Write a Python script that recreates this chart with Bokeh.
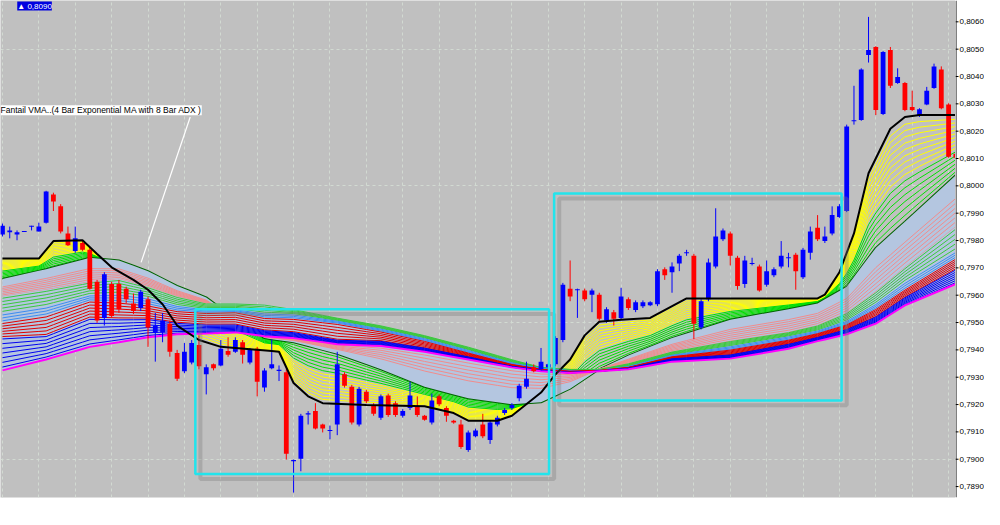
import numpy as np
from bokeh.plotting import figure
from bokeh.layouts import row
from bokeh.models import Range1d, SingleIntervalTicker, Label
from bokeh.embed import file_html
from bokeh.resources import INLINE

# ---------------- candle data (bar order, left to right) ----------------
opens = [0.79822, 0.79830, 0.79822, 0.79833, 0.79851, 0.79833, 0.79865, 0.79968, 0.79925, 0.79826,
         0.79762, 0.79791, 0.79766, 0.79649, 0.79517, 0.79641, 0.79641, 0.79624, 0.79570, 0.79553,
         0.79585, 0.79464, 0.79464, 0.79496, 0.79389, 0.79322, 0.79354, 0.79418, 0.79311, 0.79347,
         0.79343, 0.79396, 0.79393, 0.79428,
         0.79354, 0.79404, 0.79262, 0.79333, 0.79325, 0.79318, 0.78995, 0.79002, 0.79166, 0.79176,
         0.79127, 0.79105, 0.79127, 0.79311, 0.79265, 0.79127, 0.79247, 0.79198, 0.79152, 0.79233,
         0.79205, 0.79159, 0.79187, 0.79194, 0.79159, 0.79134, 0.79230, 0.79187, 0.79141, 0.79127,
         0.79034, 0.79084, 0.79127, 0.79070, 0.79127, 0.79169, 0.79187, 0.79223, 0.79265, 0.79336,
         0.79329, 0.79336,
         0.79347, 0.79436, 0.79624, 0.79620, 0.79617, 0.79602, 0.79602, 0.79507, 0.79538, 0.79517,
         0.79585, 0.79546, 0.79560, 0.79563, 0.79567, 0.79695, 0.79684, 0.79716, 0.79755, 0.79744,
         0.79482, 0.79585, 0.79705, 0.79805, 0.79826, 0.79737, 0.79641, 0.79716, 0.79705, 0.79638,
         0.79673, 0.79705, 0.79737, 0.79748, 0.79666, 0.79755, 0.79847, 0.79798, 0.79826, 0.79886,
         0.79908, 0.80238, 0.80241, 0.80479, 0.80508, 0.80263, 0.80497, 0.80376, 0.80376, 0.80288,
         0.80256, 0.80298, 0.80358, 0.80426, 0.80298, 0.80117]
highs = [0.79862, 0.79851, 0.79837, 0.79833, 0.79854, 0.79865, 0.79982, 0.79975, 0.79933, 0.79851,
         0.79851, 0.79798, 0.79773, 0.79656, 0.79684, 0.79649, 0.79656, 0.79631, 0.79606, 0.79620,
         0.79595, 0.79535, 0.79535, 0.79507, 0.79400, 0.79425, 0.79436, 0.79453, 0.79347, 0.79350,
         0.79436, 0.79446, 0.79446, 0.79436,
         0.79407, 0.79411, 0.79333, 0.79439, 0.79343, 0.79329, 0.78999, 0.79166, 0.79176, 0.79205,
         0.79130, 0.79123, 0.79393, 0.79318, 0.79272, 0.79265, 0.79254, 0.79205, 0.79237, 0.79240,
         0.79212, 0.79183, 0.79283, 0.79230, 0.79162, 0.79240, 0.79237, 0.79194, 0.79144, 0.79144,
         0.79105, 0.79112, 0.79166, 0.79141, 0.79159, 0.79187, 0.79205, 0.79276, 0.79357, 0.79347,
         0.79407, 0.79350,
         0.79450, 0.79645, 0.79727, 0.79624, 0.79624, 0.79624, 0.79609, 0.79556, 0.79546, 0.79627,
         0.79592, 0.79581, 0.79581, 0.79578, 0.79695, 0.79702, 0.79720, 0.79751, 0.79766, 0.79751,
         0.79585, 0.79734, 0.79918, 0.79844, 0.79833, 0.79744, 0.79744, 0.79737, 0.79712, 0.79727,
         0.79702, 0.79798, 0.79755, 0.79755, 0.79773, 0.79851, 0.79893, 0.79851, 0.79925, 0.79933,
         0.80224, 0.80366, 0.80430, 0.80618, 0.80511, 0.80493, 0.80508, 0.80430, 0.80380, 0.80348,
         0.80284, 0.80362, 0.80447, 0.80437, 0.80302, 0.80121]
lows = [0.79815, 0.79808, 0.79801, 0.79833, 0.79837, 0.79833, 0.79862, 0.79908, 0.79826, 0.79780,
        0.79755, 0.79762, 0.79620, 0.79499, 0.79489, 0.79517, 0.79535, 0.79570, 0.79531, 0.79542,
        0.79411, 0.79357, 0.79428, 0.79375, 0.79286, 0.79315, 0.79347, 0.79329, 0.79237, 0.79325,
        0.79340, 0.79375, 0.79389, 0.79350,
        0.79347, 0.79230, 0.79247, 0.79329, 0.79286, 0.78999, 0.78878, 0.78956, 0.79127, 0.79109,
        0.79098, 0.79073, 0.79088, 0.79262, 0.79127, 0.79120, 0.79205, 0.79159, 0.79144, 0.79155,
        0.79155, 0.79152, 0.79180, 0.79155, 0.79141, 0.79127, 0.79194, 0.79137, 0.79130, 0.79038,
        0.79027, 0.79080, 0.79077, 0.79056, 0.79120, 0.79162, 0.79180, 0.79212, 0.79258, 0.79318,
        0.79325, 0.79329,
        0.79340, 0.79428, 0.79578, 0.79517, 0.79578, 0.79538, 0.79507, 0.79499, 0.79489, 0.79510,
        0.79546, 0.79538, 0.79553, 0.79560, 0.79560, 0.79656, 0.79609, 0.79688, 0.79744, 0.79439,
        0.79475, 0.79578, 0.79698, 0.79798, 0.79709, 0.79620, 0.79627, 0.79709, 0.79613, 0.79631,
        0.79666, 0.79698, 0.79702, 0.79620, 0.79659, 0.79730, 0.79798, 0.79791, 0.79819, 0.79883,
        0.79904, 0.80224, 0.80238, 0.80451, 0.80259, 0.80259, 0.80358, 0.80373, 0.80273, 0.80273,
        0.80252, 0.80295, 0.80355, 0.80280, 0.80103, 0.80099]
closes = [0.79854, 0.79837, 0.79830, 0.79833, 0.79854, 0.79851, 0.79979, 0.79943, 0.79833, 0.79783,
          0.79808, 0.79766, 0.79624, 0.79507, 0.79677, 0.79524, 0.79549, 0.79585, 0.79542, 0.79613,
          0.79482, 0.79489, 0.79507, 0.79393, 0.79294, 0.79393, 0.79425, 0.79340, 0.79336, 0.79333,
          0.79404, 0.79382, 0.79436, 0.79382,
          0.79400, 0.79283, 0.79325, 0.79347, 0.79325, 0.79020, 0.78995, 0.79159, 0.79166, 0.79112,
          0.79112, 0.79105, 0.79347, 0.79269, 0.79134, 0.79258, 0.79212, 0.79166, 0.79230, 0.79162,
          0.79162, 0.79176, 0.79233, 0.79162, 0.79144, 0.79215, 0.79201, 0.79159, 0.79134, 0.79045,
          0.79098, 0.79105, 0.79084, 0.79134, 0.79152, 0.79180, 0.79198, 0.79269, 0.79294, 0.79322,
          0.79357, 0.79347,
          0.79443, 0.79638, 0.79595, 0.79620, 0.79585, 0.79617, 0.79514, 0.79549, 0.79514, 0.79595,
          0.79553, 0.79574, 0.79574, 0.79574, 0.79688, 0.79673, 0.79705, 0.79744, 0.79755, 0.79496,
          0.79578, 0.79720, 0.79815, 0.79837, 0.79744, 0.79634, 0.79727, 0.79716, 0.79617, 0.79688,
          0.79695, 0.79744, 0.79737, 0.79688, 0.79766, 0.79833, 0.79805, 0.79815, 0.79893, 0.79925,
          0.80217, 0.80238, 0.80426, 0.80497, 0.80277, 0.80490, 0.80366, 0.80398, 0.80277, 0.80277,
          0.80280, 0.80348, 0.80437, 0.80284, 0.80106, 0.80103]

# ---------------- Fantail VMA lines ----------------
black_idx = [0, 5, 7, 11, 13, 15, 18, 20, 22, 24, 27, 30, 37, 38, 40, 42, 44, 50, 58, 62, 64, 68,
             70, 74, 76, 78, 80, 82, 85, 89, 94, 112, 113, 115, 117, 119, 122, 124, 126, 131]
black_vma = [0.79734, 0.79734, 0.79798, 0.79801, 0.79751, 0.79702, 0.79656, 0.79620, 0.79567, 0.79489,
             0.79436, 0.79411, 0.79396, 0.79393, 0.79279, 0.79230, 0.79205, 0.79198, 0.79194, 0.79169,
             0.79141, 0.79141, 0.79159, 0.79244, 0.79311, 0.79365, 0.79453, 0.79503, 0.79510, 0.79517,
             0.79588, 0.79588, 0.79602, 0.79684, 0.79826, 0.80046, 0.80209, 0.80252, 0.80259, 0.80259]

band_idx = [0, 6, 12, 16, 20, 24, 28, 32, 36, 40, 46, 52, 58, 64, 70, 74, 78, 82, 86, 92,
            100, 108, 112, 116, 120, 124, 131]
dark_green = [0.79659, 0.79695, 0.79737, 0.79727, 0.79688, 0.79634, 0.79592, 0.79514, 0.79443, 0.79428,
              0.79386, 0.79329, 0.79265, 0.79223, 0.79201, 0.79208, 0.79258, 0.79329, 0.79379, 0.79443,
              0.79510, 0.79549, 0.79570, 0.79631, 0.79773, 0.79869, 0.80039]
pink_edge = [0.79595, 0.79620, 0.79649, 0.79659, 0.79631, 0.79595, 0.79570, 0.79514, 0.79450, 0.79443,
             0.79421, 0.79414, 0.79393, 0.79365, 0.79336, 0.79322, 0.79315, 0.79329, 0.79350, 0.79393,
             0.79432, 0.79464, 0.79489, 0.79535, 0.79613, 0.79702, 0.79851]
green_top = [0.79595, 0.79620, 0.79649, 0.79659, 0.79631, 0.79595, 0.79570, 0.79570, 0.79567, 0.79549,
             0.79517, 0.79489, 0.79453, 0.79411, 0.79365, 0.79336, 0.79329, 0.79329, 0.79350, 0.79393,
             0.79432, 0.79464, 0.79489, 0.79535, 0.79613, 0.79702, 0.79851]
corn_top = [0.79535, 0.79560, 0.79602, 0.79606, 0.79592, 0.79563, 0.79549, 0.79549, 0.79535, 0.79531,
            0.79507, 0.79478, 0.79443, 0.79400, 0.79354, 0.79333, 0.79325, 0.79325, 0.79340, 0.79382,
            0.79414, 0.79450, 0.79471, 0.79507, 0.79570, 0.79649, 0.79762]
red_top = [0.79499, 0.79524, 0.79578, 0.79574, 0.79563, 0.79542, 0.79535, 0.79538, 0.79517, 0.79514,
           0.79496, 0.79467, 0.79432, 0.79389, 0.79347, 0.79329, 0.79322, 0.79325, 0.79336, 0.79375,
           0.79400, 0.79436, 0.79460, 0.79492, 0.79549, 0.79620, 0.79734]
blue_top = [0.79446, 0.79453, 0.79517, 0.79514, 0.79514, 0.79499, 0.79492, 0.79492, 0.79471, 0.79464,
            0.79436, 0.79432, 0.79407, 0.79375, 0.79340, 0.79325, 0.79318, 0.79322, 0.79333, 0.79368,
            0.79382, 0.79421, 0.79446, 0.79475, 0.79521, 0.79592, 0.79695]
magenta_line = [0.79325, 0.79365, 0.79411, 0.79428, 0.79446, 0.79457, 0.79460, 0.79464, 0.79450, 0.79443,
                0.79421, 0.79414, 0.79393, 0.79365, 0.79336, 0.79322, 0.79315, 0.79322, 0.79329, 0.79357,
                0.79368, 0.79404, 0.79432, 0.79457, 0.79496, 0.79563, 0.79641]

# ---------------- price axis ----------------
tick_values = [0.7890, 0.7900, 0.7910, 0.7920, 0.7930, 0.7940, 0.7950, 0.7960, 0.7970,
               0.7980, 0.7990, 0.8000, 0.8010, 0.8020, 0.8030, 0.8040, 0.8050, 0.8060]
tick_labels = ["0,7890", "0,7900", "0,7910", "0,7920", "0,7930", "0,7940", "0,7950", "0,7960", "0,7970",
               "0,7980", "0,7990", "0,8000", "0,8010", "0,8020", "0,8030", "0,8040", "0,8050", "0,8060"]

# ---------------- annotations ----------------
box_left = [26.5, 75.8]
box_right = [75.1, 115.3]
box_top = [0.79549, 0.79972]
box_bottom = [0.78946, 0.79215]
note_text = "Fantail VMA..(4 Bar Exponential MA with 8 Bar ADX )"
note_pos = (-0.27, 0.80295)
pointer = dict(x0=[25.8], y0=[0.80252], x1=[19.05], y1=[0.79720])
price_tag = "\u25B2 0,8090"
price_tag_pos = (2.03, 0.80674)

X_MIN, X_MAX = -0.27, 130.95
Y_MIN, Y_MAX = 0.78860, 0.80678

# ---------------- main chart ----------------
yr = Range1d(Y_MIN, Y_MAX)
p = figure(width=955, height=509, x_range=Range1d(X_MIN, X_MAX), y_range=yr,
           output_backend="svg", toolbar_location=None, y_axis_location="right",
           min_border_left=0, min_border_top=0, min_border_bottom=12, min_border_right=0,
           background_fill_color="#C0C0C0", border_fill_color="white")
p.outline_line_color = None
p.xaxis.visible = False
p.yaxis.visible = False

p.xgrid.ticker = SingleIntervalTicker(interval=5)
p.ygrid.ticker = SingleIntervalTicker(interval=0.005)
p.grid.grid_line_color = "#D2DAD2"
p.grid.grid_line_dash = "3 3"
p.grid.grid_line_width = 1

# common x grid for the band curves (union of sample positions; piecewise linear)
gx = np.union1d(np.array(black_idx, float), np.array(band_idx, float))
def on_grid(ix, vals):
    return np.interp(gx, np.array(ix, float), np.array(vals, float))

bk = on_grid(black_idx, black_vma)
dg = on_grid(band_idx, dark_green)
kp = on_grid(band_idx, pink_edge)
gt = on_grid(band_idx, green_top)
ct = on_grid(band_idx, corn_top)
rt = on_grid(band_idx, red_top)
bt = on_grid(band_idx, blue_top)
mg = on_grid(band_idx, magenta_line)

def fan(a, b, ts):
    return [list(gx) for _ in ts], [list(a + t * (b - a)) for t in ts]

# fast fan: yellow then green lines between the VMA and the dark green line
xs, ys = fan(bk, dg, np.linspace(0.07, 0.55, 9))
p.multi_line(xs, ys, line_color="#FFFF00", line_width=1)
xs, ys = fan(bk, dg, np.linspace(0.61, 0.94, 6))
p.multi_line(xs, ys, line_color="#00E000", line_width=1)
p.line(gx, dg, line_color="#006400", line_width=2)

# light blue band with salmon lines
p.varea(x=gx, y1=dg, y2=kp, fill_color="#B4C6E0")
xs, ys = fan(dg, kp, np.linspace(0.45, 1.0, 7))
p.multi_line(xs, ys, line_color="#F08C8C", line_width=1)

# slow group: green, cornflower, red, blue, magenta
p.varea(x=gx, y1=gt, y2=mg, fill_color="#B4C6E0")
xs, ys = fan(gt, ct, [0.1, 0.3, 0.5, 0.7, 0.9])
p.multi_line(xs, ys, line_color="#3CC83C", line_width=1)
xs, ys = fan(ct, rt, [0.2, 0.5, 0.8])
p.multi_line(xs, ys, line_color="#3C8CF0", line_width=1)
xs, ys = fan(rt, bt, np.linspace(0.05, 0.95, 6))
p.multi_line(xs, ys, line_color="#E00000", line_width=1)
xs, ys = fan(bt, mg, np.linspace(0.05, 0.9, 7))
p.multi_line(xs, ys, line_color="#0000F0", line_width=1)
p.line(gx, mg, line_color="#FF00FF", line_width=2)

# candles
o = np.array(opens); c = np.array(closes)
idx = np.arange(len(o), dtype=float)
colors = ["#0000FF" if cc >= oo else "#FF0000" for oo, cc in zip(o, c)]
p.segment(x0=idx, y0=highs, x1=idx, y1=lows, line_color=colors, line_width=1)
top = np.maximum(o, c); bot = np.minimum(o, c)
thin = (top - bot) < 0.00004
top = np.where(thin, (top + bot) / 2 + 0.00002, top)
bot = np.where(thin, (o + c) / 2 - 0.00002, bot)
p.quad(left=idx - 0.33, right=idx + 0.33, top=top, bottom=bot, fill_color=colors, line_color=None)

# VMA line
p.line(black_idx, black_vma, line_color="black", line_width=2)

# cyan boxes with soft shadow
bl = np.array(box_left); br = np.array(box_right); btp = np.array(box_top); bbm = np.array(box_bottom)
p.quad(left=bl + 0.7, right=br + 0.7, top=btp - 0.00018, bottom=bbm - 0.00018,
       fill_color=None, line_color="#7A7A7A", line_alpha=0.35, line_width=4)
p.quad(left=bl, right=br, top=btp, bottom=bbm, fill_color=None, line_color="#22E4EC", line_width=2.5)

# annotation text + pointer
p.segment(**pointer, line_color="white", line_width=1.2)
p.add_layout(Label(x=note_pos[0], y=note_pos[1], text=note_text, text_font="Liberation Sans",
                   text_font_size="8.5px", text_color="black", text_baseline="top",
                   background_fill_color="white"))
p.add_layout(Label(x=price_tag_pos[0], y=price_tag_pos[1], text=price_tag, text_font="Liberation Sans",
                   text_font_size="8px", text_color="white", text_baseline="top",
                   background_fill_color="#0000E0"))

# ---------------- price scale panel (shares the y range) ----------------
q = figure(width=29, height=509, x_range=Range1d(0, 29), y_range=yr,
           output_backend="svg", toolbar_location=None,
           min_border_left=0, min_border_top=0, min_border_bottom=12, min_border_right=0,
           background_fill_color="white", border_fill_color="white")
q.outline_line_color = None
q.xaxis.visible = False
q.yaxis.visible = False
q.grid.visible = False
q.segment(x0=[0.5], y0=[Y_MIN], x1=[0.5], y1=[Y_MAX], line_color="black", line_width=1)
q.segment(x0=[0] * len(tick_values), y0=tick_values, x1=[3] * len(tick_values), y1=tick_values,
          line_color="black", line_width=1)
for v, t in zip(tick_values, tick_labels):
    q.add_layout(Label(x=4, y=v, text=t, text_font="Liberation Sans", text_font_size="8px",
                       text_color="black", text_baseline="middle", text_align="left"))

layout = row(p, q, spacing=0)
open("out.html", "w").write(file_html(layout, INLINE))
